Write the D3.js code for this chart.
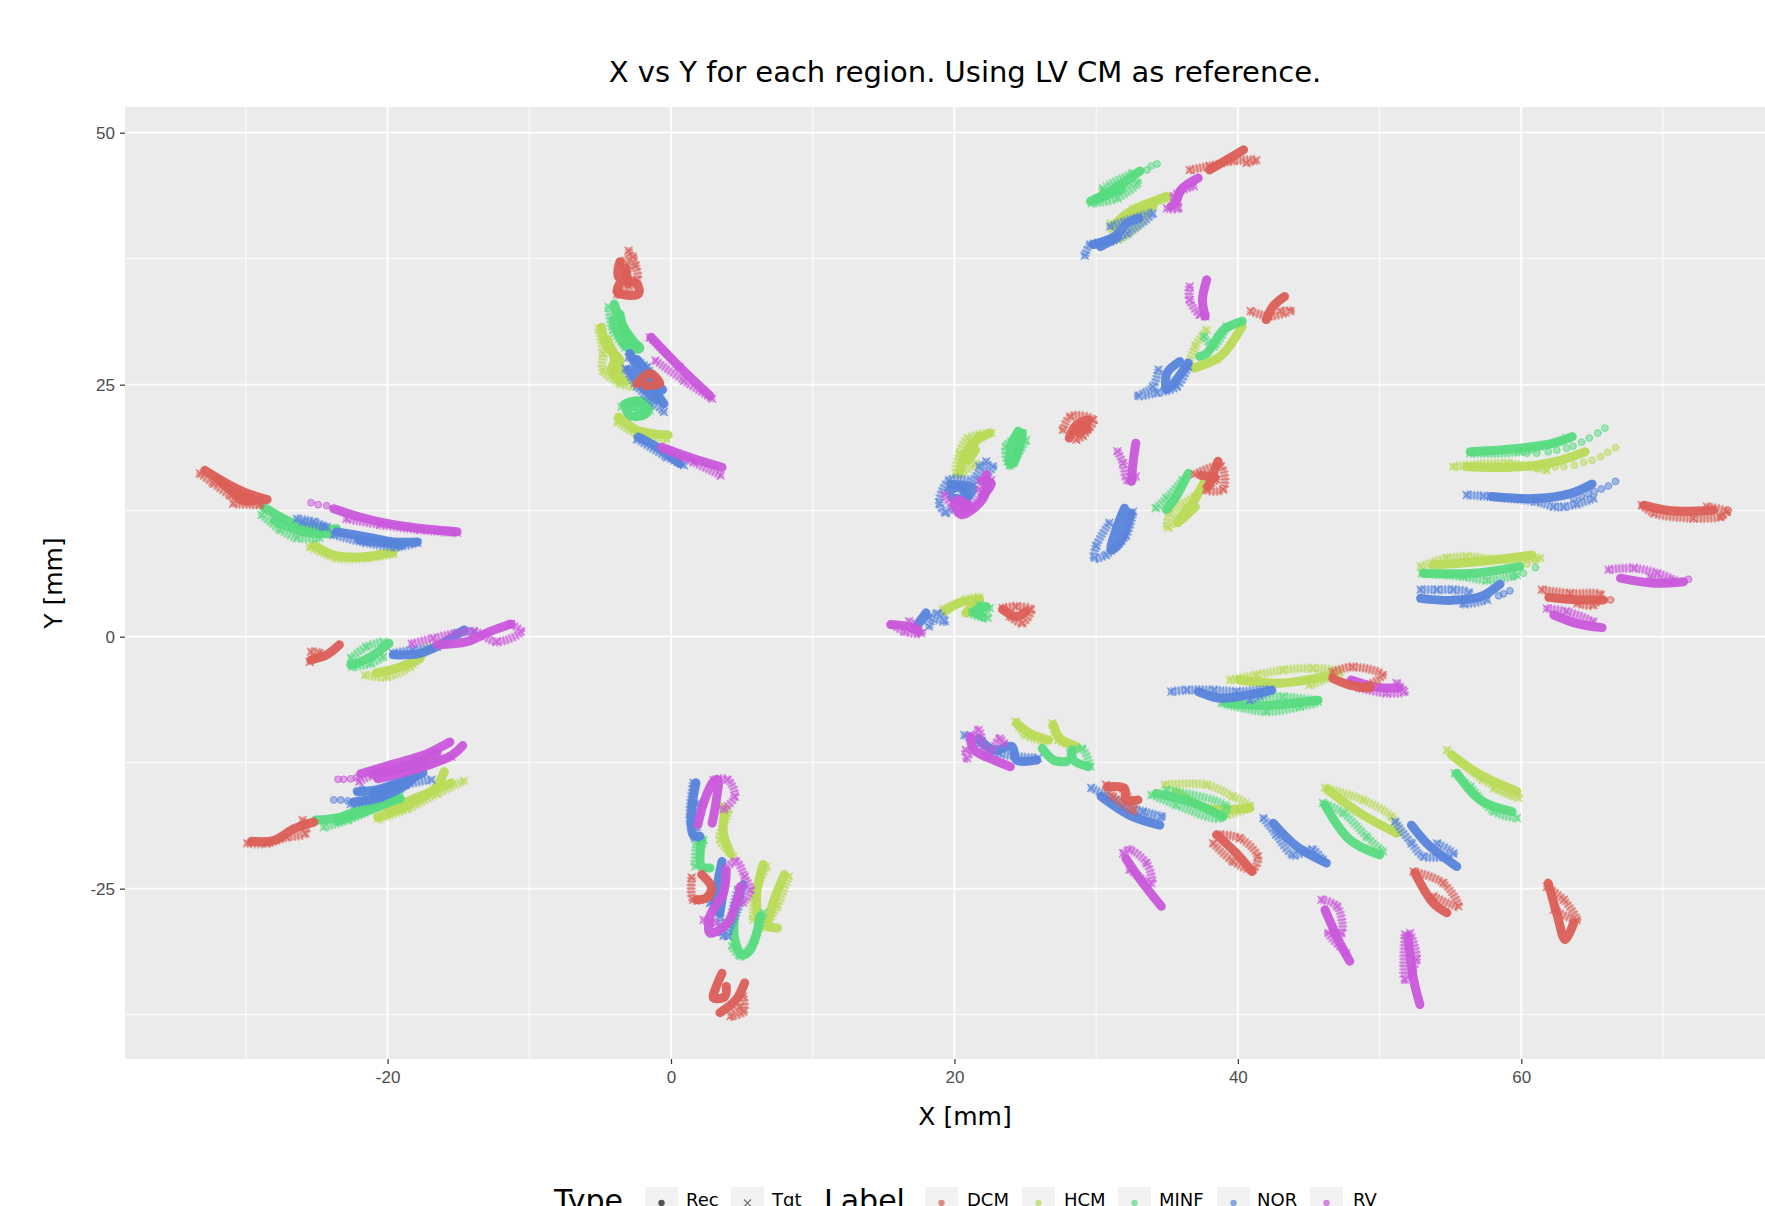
<!DOCTYPE html>
<html lang="en">
<head>
<meta charset="UTF-8">
<title>X vs Y for each region</title>
<script src="https://d3js.org/d3.v7.min.js"></script>
<style>
    html, body { margin: 0; background: #fff; overflow: hidden; }
    svg { display: block; font-family: "DejaVu Sans", sans-serif; }
    .tick-label { font-size: 17px; fill: #4d4d4d; }
    .axis-title { font-size: 25px; fill: #000; }
    .plot-title { font-size: 29px; fill: #000; }
    .legend-title { font-size: 30px; fill: #000; }
    .legend-label { font-size: 18px; fill: #000; }
</style>
</head>
<body>
<svg width="1765" height="1206"></svg>
<script>
    const labels = ["DCM", "HCM", "MINF", "NOR", "RV"];
    const types = ["Rec", "Tgt"];
    const xTicks = [-20, 0, 20, 40, 60];
    const yTicks = [50, 25, 0, -25];
    const xMinor = [-30, -10, 10, 30, 50, 70];
    const yMinor = [37.5, 12.5, -12.5, -37.5];

    // reconstructed tracks, [x, y] in mm
    const dcmRec = [
        [[-32.9,16.5],[-31.6,15.4],[-30.2,14.4],[-28.5,13.6]],
        [[-32,15.6],[-30.8,14.3],[-29.5,13.6]],
        [[-30.9,14.4],[-30.2,13.5],[-29,13.6]],
        [[-23.4,-0.8],[-24.3,-1.8],[-25.4,-2.3]],
        [[-29.6,-20.3],[-28,-20.2],[-26.6,-19.05],[-25.2,-18.4]],
        [[-3.6,37.2],[-3.7,35.7],[-2.4,35],[-2.3,34],[-3.8,34.2],[-3.2,36]],
        [[-3.2,36.6],[-3,35]],
        [[-2.4,25.1],[-1.5,26.1],[-0.8,25.1],[-1.8,24.9]],
        [[2.16,-23.6],[2.87,-24.9],[2.5,-25.9],[1.8,-26.1]],
        [[3.6,-33.4],[3.2,-34.7],[3,-35.85],[3.8,-35.7],[3.9,-34.7]],
        [[5.2,-34.35],[4.6,-36],[3.45,-37.3]],
        [[38,46.3],[39.2,47.3],[40.4,48.3]],
        [[43.3,33.75],[42.5,32.8],[42,31.45]],
        [[28.1,19.7],[28.6,21],[29.5,21.5],[28.8,20.2]],
        [[28.4,20.3],[29,21],[29.4,20.6]],
        [[38.6,17.4],[38.25,16.1],[37.9,14.9]],
        [[37.4,16],[38.4,15.8]],
        [[23.4,2.7],[24.35,2],[25.05,2.5]],
        [[46.7,-4.15],[47.9,-4.8],[49.3,-5.1]],
        [[30.8,-14.9],[32,-15.05],[32.1,-16.2],[32.95,-16.2]],
        [[38.5,-19.65],[39.9,-21.5],[41,-23.3]],
        [[52.5,-23.45],[53.8,-26.45],[54.75,-27.4]],
        [[61.9,-24.45],[62.5,-27.4],[63.1,-30.05],[63.7,-28.4]],
        [[68.65,13.05],[70.5,12.5],[73.55,12.55]],
        [[61.95,3.9],[63.95,3.65],[65.8,3.65]]
    ];
    const dcmTgt = [
        [[-33.25,16.2],[-32.3,15.2],[-31.1,14],[-30.2,13.5],[-29,13.1],[-30.9,13.2]],
        [[-25.4,-1.5],[-24.8,-1.65],[-25.5,-2.5]],
        [[-29.9,-20.5],[-28.5,-20.5],[-27.1,-19.9],[-25.8,-19.5],[-26,-18.2]],
        [[-3,38.3],[-2.5,36.8],[-2.4,35.4],[-3.8,34],[-2.7,37.7],[-3.6,37]],
        [[1.46,-23.9],[1.58,-26.1],[2.75,-25.8]],
        [[5.1,-35.7],[5.1,-37.2],[4.2,-37.65],[4.9,-36.7]],
        [[36.6,46.3],[38,46.7],[39.7,47.2],[41.3,47.3],[40.6,47]],
        [[40.9,32.3],[42.2,31.8],[43.7,32.3],[43,32.3]],
        [[27.65,20.5],[28.2,21.85],[29.8,21.5],[29.05,19.9],[28.6,19.55]],
        [[36.95,16.1],[38.8,16.9],[38.95,14.6],[37.75,14.6],[38.5,15.55]],
        [[23.4,2.85],[24.35,3],[25.4,2.7],[24.8,1.35],[23.9,2]],
        [[46.7,-3.5],[48.1,-3],[50.2,-3.8],[48.8,-5.1]],
        [[30.7,-14.7],[31.2,-15.85],[32.7,-17.2],[31.9,-15.05]],
        [[38.25,-20.5],[39.65,-22.3],[41.05,-23.1],[41.4,-21.8],[40.15,-20],[38.7,-19.65]],
        [[52.4,-23.3],[54.5,-24.45],[55.55,-26.75],[53.8,-25.75]],
        [[61.8,-24.8],[63,-26.1],[63.9,-28.1],[62.3,-27.1]],
        [[68.5,13.05],[69.35,12.25],[72.15,11.75],[74.05,11.9],[74.5,12.4],[73.1,12.9]],
        [[61.45,4.65],[63.45,4.3],[65.6,4.15],[65.1,3.15],[63.95,3.3]]
    ];
    const dcmDots = [[74.15,11.9],[74.6,12.55],[66.3,3.65]];

    const hcmRec = [
        [[-25.2,9.1],[-23.8,8.1],[-21.9,7.9],[-19.6,8.4]],
        [[-17.7,-2.15],[-19.1,-3],[-20.8,-3.6]],
        [[-20.7,-17.9],[-18.8,-16.9],[-16.7,-15.1],[-16,-13.4]],
        [[-20,-17.2],[-18,-16],[-15.5,-14.5]],
        [[-4.9,30.7],[-4.5,28.7],[-3.6,27.4],[-4.1,26.1],[-3.6,25.4]],
        [[-4.5,29.5],[-4,27.5],[-4.2,26.3],[-3.2,25.4]],
        [[-4.1,28.4],[-3.5,26.4]],
        [[-3.7,21.8],[-2.4,20.5],[-0.2,20]],
        [[3.8,-17.15],[3.7,-19.5],[4.2,-21.5]],
        [[6.5,-22.6],[6.05,-25.4],[6.16,-28.25]],
        [[8,-23.6],[7.2,-26.4],[6.9,-28.7],[7.5,-28.9]],
        [[31.2,40.7],[32.2,42],[35,43.7]],
        [[32,41.5],[34,42.7]],
        [[40.3,30.8],[38.75,27.8],[36.9,26.65]],
        [[22.5,20.2],[21.3,19.2],[20.6,17.55],[20.35,16.1]],
        [[21.75,19.9],[20.8,17.9]],
        [[21.2,19],[20.9,17.5],[21.5,18.5]],
        [[37.65,15.4],[36.8,13.25],[35.75,11.3],[37,12.9]],
        [[19.3,2.5],[20.35,3.35],[21.75,3.65]],
        [[20.8,2.35],[21.75,3.65]],
        [[40.1,-4.3],[43.2,-4.6],[46.6,-3.8]],
        [[24.4,-8.6],[25.35,-9.6],[26.65,-10.25]],
        [[27,-8.75],[27.45,-10.1],[28.65,-10.9]],
        [[35.65,-15.4],[37.8,-17],[40.85,-17]],
        [[46.35,-15.2],[48.6,-17.5],[51.2,-19.5]],
        [[55.1,-11.75],[57.1,-13.7],[59.7,-15.35]],
        [[56.15,16.85],[59.9,16.85],[62.75,17.5],[64.5,18.35]],
        [[53.8,7.1],[57.1,7.45],[60.75,8.1]]
    ];
    const hcmTgt = [
        [[-25.5,8.9],[-23.6,7.8],[-21.5,7.8],[-19.6,8.2]],
        [[-21.6,-3.8],[-20.1,-4],[-18.4,-3],[-17.1,-1]],
        [[-20.7,-18.1],[-18.6,-17.1],[-16.5,-15.6],[-14.6,-14.3]],
        [[-5.1,30.6],[-4.8,28.1],[-4.8,26.4],[-3.6,25.1],[-2.7,24.8]],
        [[-3.8,21.3],[-2.4,20.1],[-0.3,19.6]],
        [[3.45,-16.8],[4,-17.15],[3.45,-20.15],[4.4,-21.8]],
        [[6.75,-22.8],[5.9,-25.75],[5.8,-28.1]],
        [[8.3,-23.8],[7.5,-26.75],[6.6,-28.9]],
        [[31,41],[31.5,39.4],[33.6,42],[32.6,42.4],[35.1,43.5]],
        [[37.8,30.45],[37,28.8],[36.6,26.8],[38.5,27.5]],
        [[22.6,20.2],[20.95,19.7],[20.35,18.2],[20.2,16.1],[21.5,17.2]],
        [[38,15.55],[36.35,12.9],[35.05,10.8],[35.2,12.25],[37,13.9]],
        [[19.2,2.7],[20.8,3.65],[21.75,3.85],[20.95,2.35]],
        [[39.45,-4.3],[41.3,-3.8],[43.2,-3.3],[45.3,-3.15],[47.2,-3.5],[45.05,-4.8]],
        [[24.3,-8.4],[25,-9.75],[26.3,-10.4]],
        [[26.9,-8.6],[27.35,-10.25],[28.4,-10.9]],
        [[34.85,-14.7],[37.8,-14.7],[39.65,-15.85],[40.85,-16.85],[39.2,-17.7]],
        [[46.15,-15],[48.85,-16.2],[50.85,-17.85],[51.45,-19.5]],
        [[54.75,-11.25],[57.3,-14.2],[59.8,-16],[58.05,-15.05]],
        [[55.2,16.85],[59,17.2],[61.8,16.5]],
        [[52.9,6.95],[54.75,7.8],[56.15,7.95],[58.75,7.6],[61.35,7.8]]
    ];
    const hcmDots = [[61.1,16.7],[61.8,16.8],[62.4,16.85],[63,16.85],[63.75,17],[64.4,17.3],[65,17.5],[65.6,17.85],[66.1,18.3],[66.65,18.75],[60.4,7.2],[61,7.55]];

    const minfRec = [
        [[-28.8,12.9],[-26.9,11.4],[-25.2,10.7],[-23.6,10.7]],
        [[-28,11.5],[-26,10.4],[-24,10.2]],
        [[-19.9,-0.66],[-20.8,-1.65],[-21.9,-2.5],[-22.6,-2.8]],
        [[-25.1,-18.2],[-23.3,-17.9],[-21.2,-16.7],[-19.1,-16.1]],
        [[-23.5,-18.3],[-21.5,-17.3],[-19.5,-16.2]],
        [[-4,33],[-3.6,31.4],[-2.7,29.4],[-2.2,28.6],[-3.1,28.7],[-4.1,31.4]],
        [[-3.6,32],[-3.2,30],[-2.5,28.8]],
        [[-3.25,23.1],[-2.4,23.4],[-1.6,23.1],[-1.8,22.1],[-2.9,21.96],[-3.25,22.95]],
        [[-2.9,22.9],[-2,22.6]],
        [[2.16,-20.15],[2.05,-21.5],[2.16,-22.8],[2.75,-22.95]],
        [[4.5,-27.1],[4.5,-30.05],[5,-31.55],[5.6,-31.05],[6.3,-27.75]],
        [[29.6,43.2],[31,44.2],[33.1,46.2]],
        [[30,43.3],[31.8,44.4]],
        [[40.3,31.3],[39,30.45],[37.8,28.1],[37.3,27.8]],
        [[24.5,20.4],[24,18.9],[23.9,17.2],[24.6,18.9]],
        [[24.8,20.2],[24.6,18.9],[24.2,17.2]],
        [[36.5,16.2],[35.65,13.9],[34.95,12.6]],
        [[22.25,3],[21.4,2.5],[22,2]],
        [[39.2,-6.6],[42,-6.8],[45.65,-6.3]],
        [[26.2,-11.1],[27,-12.25],[27.9,-12.4]],
        [[28.3,-11.25],[28.4,-12.25],[29.45,-12.9]],
        [[34.25,-15.55],[36.85,-16.5],[38.95,-17.85]],
        [[46.15,-16.7],[47.9,-20.15],[50,-21.65]],
        [[55.45,-13.55],[57.1,-16.2],[59.35,-17.35]],
        [[56.4,18.35],[59.9,18.7],[62.3,19.2],[63.6,19.85]],
        [[53.1,6.3],[56.65,6.3],[59.9,6.95]]
    ];
    const minfTgt = [
        [[-28.9,12.1],[-27.6,10.6],[-26.4,9.8],[-24.8,9.8]],
        [[-22.6,-2.15],[-21.5,-1],[-20.3,-0.5]],
        [[-22.5,-3],[-21.2,-2.65],[-20.3,-2]],
        [[-24.5,-18.9],[-22.8,-18.2],[-20.7,-16.9],[-19.1,-15.7],[-21.6,-15.9]],
        [[-4.4,32.7],[-4.1,30.4],[-3.25,28.7]],
        [[-3.5,22.8],[-2.4,23.3],[-1.5,22.45],[-2.7,21.8]],
        [[1.8,-20.5],[1.7,-22.8],[2.3,-20.15]],
        [[4.3,-30.7],[4.9,-31.7],[5.9,-30.05],[6.5,-27.4]],
        [[29.7,43],[31.5,43.5],[32.9,45],[30.5,44.5],[32.6,46]],
        [[39.2,30.8],[38.3,28.8],[37.6,29.8]],
        [[24.8,20.2],[23.65,18.9],[23.9,17],[25.05,19.5]],
        [[34.2,12.75],[34.95,13.75],[36.1,15.55]],
        [[22.5,2.85],[21.2,2.35],[22.35,1.85],[21.75,3.2]],
        [[38.85,-6.6],[42,-7.45],[44.4,-6.95],[45.65,-6.45],[43.2,-5.95],[41.55,-5.95]],
        [[28.15,-11.6],[29,-11.1],[29.6,-12.9]],
        [[33.9,-15.7],[35.65,-16.7],[38.7,-18],[39.2,-16.85],[34.95,-15.2]],
        [[46,-16.5],[47.45,-17.5],[49.1,-19.85],[50.25,-21.3]],
        [[55.3,-13.55],[56.4,-14.9],[58.05,-17.35],[59.7,-18]],
        [[56.4,18.2],[59.9,18.35],[63.2,19.7]],
        [[53,6.3],[55.9,5.95],[57.6,5.6],[59.7,6.1]]
    ];
    const minfDots = [[60.4,18.2],[61.1,18.2],[61.9,18.35],[62.5,18.5],[63.2,18.7],[63.65,18.9],[64.25,19.3],[64.8,19.7],[65.4,20.2],[65.9,20.7],[33.6,46.3],[33.9,46.7],[34.3,46.9],[59.45,5.95],[60.15,6.3],[61,6.85]];

    const norRec = [
        [[-23.6,10.4],[-21.5,9.9],[-19.6,9.4],[-17.9,9.4]],
        [[-22,9.6],[-19,9.1]],
        [[-19.6,-1.8],[-17.7,-1.65],[-16.3,-0.8],[-14.6,0.66]],
        [[-22.4,-16.4],[-20.5,-15.9],[-18.6,-14.6],[-17.6,-12.9]],
        [[-22.1,-15.4],[-20.5,-15.1],[-18.4,-13.9]],
        [[-21,-15.5],[-19,-14.5],[-17.5,-13.5]],
        [[-2.9,28.1],[-2.4,26.75],[-1.5,25.1],[-0.5,23.1]],
        [[-3,26.5],[-2.2,25],[-1,23.5]],
        [[-2.4,27.5],[-1.5,26],[-0.6,24.5]],
        [[-2.3,19.8],[-1,18.8],[0.6,17.2]],
        [[1.76,-14.5],[1.46,-17.2],[1.58,-19.65],[2.05,-19.8]],
        [[3.6,-22.3],[3.3,-24.4],[3.1,-26.75],[3.8,-23.8],[3.45,-27.4]],
        [[5.1,-24.6],[4.5,-26.75]],
        [[29.8,38.9],[31.3,39.7],[32.2,41],[33,41.5]],
        [[30.3,38.7],[31.5,39.6]],
        [[35.9,27.3],[35,26.15],[35,24.5],[36.5,27.15]],
        [[19.75,15.1],[21.3,14.75],[20.6,13.25]],
        [[19.6,14.5],[20.5,14.8],[20.8,13.6],[19.8,13.8]],
        [[32,12.75],[31.4,10.6],[31.05,8.6],[31.65,9.3],[32.45,12.25]],
        [[17.3,1],[18,2.35],[17.65,1.55]],
        [[37.2,-5.45],[38.7,-6.1],[40.6,-5.8],[42.4,-5.3]],
        [[21.7,-10.1],[22.8,-11.25],[24.05,-10.9],[24.4,-12.25],[25.8,-12.25]],
        [[30.35,-15.85],[32.35,-17.7],[34.5,-18.7]],
        [[42.5,-18.5],[44.15,-20.8],[46.25,-22.45]],
        [[52.25,-18.7],[53.55,-20.8],[55.45,-22.8]],
        [[57.9,13.9],[60.9,13.7],[63.45,14.2],[65,15.15]],
        [[52.9,3.8],[55,3.6],[57.1,3.95],[58.5,5.2]]
    ];
    const norTgt = [
        [[-26.4,11.7],[-25.2,11.4],[-24.3,10.9]],
        [[-26,11.4],[-24.5,10.9]],
        [[-23.8,10.1],[-21.5,9.3],[-19.4,8.9],[-17.9,9.3]],
        [[-19.6,-1.65],[-18.2,-1.3],[-16.5,-1],[-15.1,0.33],[-13.9,0.5]],
        [[-22.6,-16.6],[-20.5,-16],[-18.8,-14.75],[-16.9,-14.2]],
        [[-3.2,26.6],[-2.4,24.8],[-0.5,22.3]],
        [[-3,27.7],[-1.7,26.75],[-0.8,24.1]],
        [[-2.4,19.6],[-0.3,17.8],[0.9,17]],
        [[1.58,-14.5],[1.34,-18.15],[1.7,-20],[1.93,-16.5]],
        [[2.75,-26.4],[3.45,-27.75],[3.7,-29.7],[4.9,-26.1],[4.75,-25.1],[4,-29.7]],
        [[29.2,37.8],[29.6,38.9],[31,39.2],[32.2,40],[34,42],[31,40.7]],
        [[34.4,26.5],[34,24.8],[33,23.9],[34.3,24.2],[35.7,24.8],[36.5,26.8]],
        [[21.75,16.9],[22.7,16.9],[21.75,15.55],[19.65,15.55],[18.95,13.25],[19.4,12.3],[20.6,14.25],[22.25,17.4]],
        [[30.95,11.3],[30,9],[29.9,7.8],[30.7,8.1],[32.1,10],[32.6,12.4]],
        [[18.2,1],[18.8,2.35],[19.3,1.55],[18.2,1.9]],
        [[35.3,-5.45],[36.4,-5.3],[38.3,-5.3],[39.9,-5.45],[42.25,-5.3],[40.85,-6.3]],
        [[20.7,-9.75],[21.8,-10.6],[23.2,-11.6],[25.9,-12.05]],
        [[29.65,-15],[31.4,-16.2],[33.3,-17.35],[34.6,-17.85],[31.9,-16.85]],
        [[41.8,-18],[42.7,-19.65],[43.9,-21.65],[45.3,-21.15],[46,-22.1]],
        [[51.1,-18.35],[52.25,-20.5],[53.1,-21.8],[55.2,-21.5],[54.05,-20.5]],
        [[56.15,14.05],[57.35,13.95],[61,13.4],[62.3,12.9],[63,12.9],[63.9,13.15],[65.1,13.7]],
        [[52.9,4.65],[54.05,4.65],[55.2,4.65],[56.3,4.35],[55.9,3.3],[57.6,3.65]]
    ];
    const norDots = [[-23.8,-16.2],[-23.3,-16.2],[-22.8,-16.3],[-22.2,-15.3],[-21.8,-15.1],[63.7,13.7],[64.25,13.9],[64.75,14.2],[65.15,14.4],[65.65,14.65],[66.15,14.95],[66.65,15.4],[58.4,4.05],[58.75,4.25],[59.2,4.55]];

    const rvRec = [
        [[-23.8,12.7],[-21.5,11.7],[-18.6,10.9],[-15.1,10.4]],
        [[-16.5,-0.8],[-14.4,-0.5],[-12.8,0.5],[-11.3,1.26]],
        [[-21.9,-13.6],[-19.5,-12.6],[-17.2,-11.6],[-15.6,-10.45]],
        [[-21,-13.7],[-18.5,-12.8],[-16.5,-11.5]],
        [[-20.7,-14.1],[-17.9,-13.1],[-15.5,-11.8],[-14.7,-10.8]],
        [[-1.4,29.7],[0.6,26.75],[2.75,23.9]],
        [[-0.65,18.8],[1.3,17.8],[3.6,16.8]],
        [[1.9,-18.65],[2.3,-16.5],[3,-14.35],[3.3,-14.2],[3.2,-16.2],[2.9,-18.5]],
        [[3.9,-23.3],[3.7,-25.4],[2.75,-27.75],[2.75,-29.4],[4,-28.4],[4.9,-24.8]],
        [[37.2,45.5],[36,44.35],[35.6,43],[35.3,42.7]],
        [[37.8,35.4],[37.5,33.4],[37.7,31.8]],
        [[22.25,16.1],[22.1,13.9],[20.5,12.1],[20,13.25],[20.8,12.6]],
        [[21.9,15.5],[22.6,15.2],[22,14]],
        [[20.2,13.6],[21,13],[20.6,12.4]],
        [[32.8,19.2],[32.6,17.2],[32.5,15.4]],
        [[15.5,1.2],[16.7,1],[17.5,0.5]],
        [[48,-4.3],[49.75,-5],[51.4,-5.1]],
        [[21.1,-9.9],[21.4,-11.25],[22.8,-12.25],[23.95,-12.9]],
        [[32.1,-22],[33.3,-24.45],[34.6,-26.75]],
        [[46.15,-27.1],[47.2,-30.4],[47.9,-32.2]],
        [[52,-29.75],[52.4,-34],[52.85,-36.5]],
        [[67,5.8],[69.35,5.3],[71.45,5.45]],
        [[62.3,2.15],[63.95,1.3],[65.7,0.9]]
    ];
    const rvTgt = [
        [[-22.9,11.7],[-20.5,11.1],[-17.7,10.6],[-15.1,10.3]],
        [[-18.3,-0.7],[-16.8,-0.17],[-13.9,0.5],[-12.3,-0.5],[-10.6,0.5],[-11.3,1.26]],
        [[-22,-14.4],[-20,-13.1],[-17.4,-12.6],[-15.5,-11.9]],
        [[-1.1,27.4],[0.9,25.4],[2.9,23.6]],
        [[-1.5,29.7],[0.6,26.75]],
        [[-0.3,18.5],[1.6,17.3],[3.5,16]],
        [[3,-14.2],[4,-14.2],[4.5,-15.85],[3.7,-17.15]],
        [[3.8,-23.1],[4.6,-22.3],[5.2,-23.8],[5.6,-25.1],[5.1,-26.4]],
        [[2.3,-28.1],[3.2,-28.4]],
        [[35,42.5],[35.8,42.5],[35.5,43.7],[36.9,44.7]],
        [[36.6,34.75],[36.6,33.4],[37.3,31.95],[37.7,31.8]],
        [[19.3,14.1],[20.35,12.3],[21.2,12.9],[22.6,15.55],[21.75,14.6]],
        [[31.5,18.4],[31.9,17.2],[32.2,15.55],[32.8,15.9]],
        [[15.65,1.2],[16.5,0.5],[17.65,0.35],[16.8,1.55]],
        [[48.6,-5.1],[50.5,-5.6],[51.75,-5.45],[51.2,-4.6]],
        [[20.8,-11.25],[20.9,-12.05],[21.7,-9.25],[22.3,-11.9],[23.2,-10.1],[23.5,-10.6]],
        [[31.9,-21.5],[32.35,-21.15],[33.55,-22.45],[33.9,-24.45],[32.35,-23.1]],
        [[45.9,-26.1],[47,-26.75],[47.3,-29.4],[46.4,-29.4],[47.65,-31.4]],
        [[51.8,-29.55],[51.8,-34],[52.6,-32],[52.15,-29.4]],
        [[66.15,6.65],[67.95,6.8],[69.6,6.3],[70.75,5.6],[69.1,5.95]],
        [[61.8,2.8],[63.2,2.5],[65.1,1.5]]
    ];
    const rvDots = [[-25.4,13.3],[-24.9,13.1],[-24.3,13],[-23.5,-14.15],[-23.1,-14.15],[-22.6,-14.1],[-22.2,-14],[71.8,5.7]];

    const recByLabel = { DCM: dcmRec, HCM: hcmRec, MINF: minfRec, NOR: norRec, RV: rvRec };
    const tgtByLabel = { DCM: dcmTgt, HCM: hcmTgt, MINF: minfTgt, NOR: norTgt, RV: rvTgt };
    const dotsByLabel = { DCM: dcmDots, HCM: hcmDots, MINF: minfDots, NOR: norDots, RV: rvDots };
    const drawOrder = ["HCM", "MINF", "NOR", "RV", "DCM"];

    const svg = d3.select("svg");
    const panel = { left: 125, right: 1765, top: 107, bottom: 1059 };

    const x = d3.scaleLinear().domain([-38.53, 77.2]).range([panel.left, panel.right]);
    const y = d3.scaleLinear().domain([-41.9, 52.55]).range([panel.bottom, panel.top]);
    const color = d3.scaleOrdinal().domain(labels)
        .range(["#db5f57", "#b9db57", "#57db80", "#5784db", "#c957db"]);

    svg.append("rect")
        .attr("x", panel.left).attr("y", panel.top)
        .attr("width", panel.right - panel.left).attr("height", panel.bottom - panel.top)
        .attr("fill", "#ebebeb");

    // grid
    const grid = svg.append("g").attr("stroke", "#fff").attr("fill", "none");
    xMinor.forEach(v => grid.append("line").attr("x1", x(v)).attr("x2", x(v))
        .attr("y1", panel.top).attr("y2", panel.bottom).attr("stroke-width", 0.9));
    yMinor.forEach(v => grid.append("line").attr("y1", y(v)).attr("y2", y(v))
        .attr("x1", panel.left).attr("x2", panel.right).attr("stroke-width", 0.9));
    xTicks.forEach(v => grid.append("line").attr("x1", x(v)).attr("x2", x(v))
        .attr("y1", panel.top).attr("y2", panel.bottom).attr("stroke-width", 1.8));
    yTicks.forEach(v => grid.append("line").attr("y1", y(v)).attr("y2", y(v))
        .attr("x1", panel.left).attr("x2", panel.right).attr("stroke-width", 1.8));

    // axes, hyphen instead of the minus sign as in the original
    const xAxis = svg.append("g").attr("transform", `translate(0,${panel.bottom})`)
        .call(d3.axisBottom(x).tickValues(xTicks).tickSize(5).tickPadding(7).tickFormat(String));
    const yAxis = svg.append("g").attr("transform", `translate(${panel.left},0)`)
        .call(d3.axisLeft(y).tickValues(yTicks).tickSize(5).tickPadding(5).tickFormat(String));
    [xAxis, yAxis].forEach(a => {
        a.select(".domain").remove();
        a.selectAll("text").attr("class", "tick-label").style("font-family", "inherit").style("font-size", null);
        a.selectAll("line").attr("stroke", "#333").attr("stroke-width", 1.2);
    });

    svg.append("text").attr("class", "plot-title").attr("x", 965).attr("y", 82)
        .attr("text-anchor", "middle").text("X vs Y for each region. Using LV CM as reference.");
    svg.append("text").attr("class", "axis-title").attr("x", 965).attr("y", 1125)
        .attr("text-anchor", "middle").text("X [mm]");
    svg.append("text").attr("class", "axis-title")
        .attr("transform", "translate(62,583) rotate(-90)")
        .attr("text-anchor", "middle").text("Y [mm]");

    // marks
    svg.append("clipPath").attr("id", "panel-clip").append("rect")
        .attr("x", panel.left).attr("y", panel.top)
        .attr("width", panel.right - panel.left).attr("height", panel.bottom - panel.top);
    const marks = svg.append("g").attr("clip-path", "url(#panel-clip)")
        .style("filter", "blur(0.7px)");
    const line = d3.line().x(d => x(d[0])).y(d => y(d[1])).curve(d3.curveCatmullRom.alpha(0.5));
    const crossPath = d3.symbol().type(d3.symbolX).size(34)();

    drawOrder.forEach(name => {
        const g = marks.append("g").attr("fill", "none").attr("stroke", color(name))
            .attr("stroke-linecap", "round").attr("stroke-linejoin", "round");
        // Tgt: a pale solid band with a fine hatch, and an x at every read point
        g.selectAll(".tgt-base").data(tgtByLabel[name]).enter().append("path")
            .attr("class", "tgt-base").attr("d", line)
            .attr("stroke-width", 7).attr("opacity", 0.45);
        g.selectAll(".tgt-band").data(tgtByLabel[name]).enter().append("path")
            .attr("class", "tgt-band").attr("d", line)
            .attr("stroke-linecap", "butt")
            .attr("stroke-width", 9.5).attr("stroke-dasharray", "1.6 1.8")
            .attr("opacity", 0.6);
        g.selectAll(".tgt-x").data(tgtByLabel[name].flat()).enter().append("path")
            .attr("class", "tgt-x").attr("d", crossPath)
            .attr("transform", d => `translate(${x(d[0])},${y(d[1])})`)
            .attr("stroke-width", 1.4).attr("opacity", 0.8);
        g.selectAll(".rec-band").data(recByLabel[name]).enter().append("path")
            .attr("class", "rec-band").attr("d", line)
            .attr("stroke-width", 9).attr("opacity", 0.95);
        g.selectAll(".rec-dot").data(dotsByLabel[name]).enter().append("circle")
            .attr("class", "rec-dot").attr("cx", d => x(d[0])).attr("cy", d => y(d[1])).attr("r", 3.4)
            .attr("fill", color(name)).attr("fill-opacity", 0.5).attr("stroke-width", 1).attr("stroke-opacity", 0.7);
    });

    // legend, it runs off the bottom of the picture like the original
    const keyTop = 1187, keySize = 33;
    const legend = svg.append("g");
    legend.append("text").attr("class", "legend-title").attr("x", 554).attr("y", 1211).text("Type");
    legend.append("text").attr("class", "legend-title").attr("x", 824).attr("y", 1211).text("Label");

    const key = (kx, text, tx) => {
        legend.append("rect").attr("x", kx).attr("y", keyTop).attr("width", keySize).attr("height", keySize).attr("fill", "#f2f2f2");
        legend.append("text").attr("class", "legend-label").attr("x", tx).attr("y", 1206).text(text);
    };
    const typeKeys = [645, 731];
    const typeText = [686, 772];
    types.forEach((t, i) => {
        key(typeKeys[i], t, typeText[i]);
        const cx = typeKeys[i] + keySize / 2;
        if (t === "Rec") legend.append("circle").attr("cx", cx).attr("cy", 1203).attr("r", 3.2).attr("fill", "#555");
        else legend.append("path").attr("d", crossPath).attr("transform", `translate(${cx},1203)`)
            .attr("stroke", "#777").attr("stroke-width", 1.3).attr("fill", "none");
    });
    const labelKeys = [925, 1022, 1118, 1217, 1310];
    const labelText = [967, 1064, 1159, 1257, 1353];
    labels.forEach((l, i) => {
        key(labelKeys[i], l, labelText[i]);
        legend.append("circle").attr("cx", labelKeys[i] + keySize / 2).attr("cy", 1203).attr("r", 3.2)
            .attr("fill", color(l)).attr("fill-opacity", 0.7);
    });
</script>
</body>
</html>
